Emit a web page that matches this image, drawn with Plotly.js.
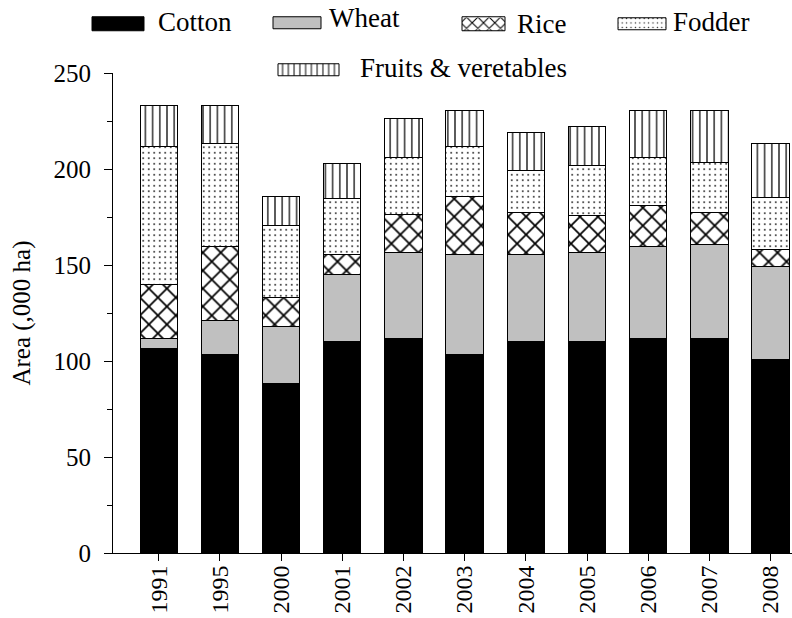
<!DOCTYPE html>
<html>
<head>
<meta charset="utf-8">
<script src="https://cdn.plot.ly/plotly-3.0.1.min.js"></script>
<style>
  html, body { margin: 0; padding: 0; background: #fff; }
  #chart { width: 792px; height: 618px; }
</style>
</head>
<body>
<div id="chart"></div>
<script>
// Cropped area by year (thousand hectares)
const years   = ['1991', '1995', '2000', '2001', '2002', '2003', '2004', '2005', '2006', '2007', '2008'];
const cotton  = [106.3, 103.3, 88.5, 110.2, 111.5, 103.3, 110.2, 110.2, 111.5, 111.5, 101.0];
const wheat   = [5.2, 17.7, 29.5, 35.1, 44.8, 52.4, 45.2, 46.1, 47.9, 49.4, 48.3];
const rice    = [28.6, 38.7, 15.3, 10.4, 19.9, 30.0, 22.2, 19.5, 21.6, 16.7, 9.0];
const fodder  = [71.7, 53.5, 37.3, 28.7, 30.0, 26.1, 21.7, 26.1, 25.0, 26.0, 27.1];
const fruits  = [21.3, 19.8, 15.1, 18.4, 20.0, 18.7, 19.8, 20.3, 24.4, 26.8, 28.1];

const serif = 'Liberation Serif, Times New Roman, serif';
const outline = { color: '#000', width: 1 };

// legend swatch geometry [width, height, vertical shift], one per series
const swatch = {
  'Cotton': [52, 14, 3], 'Wheat': [48, 12, 6], 'Rice': [43, 14, 1], 'Fodder': [48, 12, 3], 'Fruits & veretables': [61, 12, 3]
};

function bar(name, values, legendId, marker) {
  return {
    type: 'bar', name: name, x: years, y: values, legend: legendId,
    marker: Object.assign({ line: outline }, marker),
    hoverinfo: 'skip'
  };
}

const traces = [
  bar('Cotton', cotton, 'legend', { color: '#000000' }),
  bar('Wheat', wheat, 'legend2', { color: '#c0c0c0' }),
  bar('Rice', rice, 'legend3', {
    color: '#ffffff',
    pattern: { shape: 'x', size: 12.7, solidity: 0.25, fgcolor: '#000', bgcolor: '#fff', fillmode: 'replace' }
  }),
  bar('Fodder', fodder, 'legend4', {
    color: '#ffffff',
    pattern: { shape: '.', size: 5.5, solidity: 0.08, fgcolor: '#111', bgcolor: '#fff', fillmode: 'replace' }
  }),
  bar('Fruits & veretables', fruits, 'legend5', {
    color: '#ffffff',
    pattern: { shape: '|', size: 7.2, solidity: 0.17, fgcolor: '#000', bgcolor: '#fff', fillmode: 'replace' }
  })
];

// plot area in pixels: x 113..792, y 73.3..553.3
function legendAt(px, py, itemwidth) {
  return {
    xref: 'paper', yref: 'paper',
    x: (px - 113) / 679, y: (553.3 - py) / 480,
    xanchor: 'left', yanchor: 'top',
    bgcolor: 'rgba(0,0,0,0)', borderwidth: 0,
    itemwidth: itemwidth,
    font: { family: serif, size: 27, color: '#000' },
    itemclick: false, itemdoubleclick: false
  };
}

const layout = {
  width: 792, height: 618,
  margin: { l: 113, r: 0, t: 73, b: 65, autoexpand: false },
  paper_bgcolor: '#fff', plot_bgcolor: '#fff',
  barmode: 'stack', bargap: 0.39,
  showlegend: true,
  font: { family: serif, color: '#000' },
  legend:  legendAt(78, -3, 70),
  legend2: legendAt(265, -7, 54),
  legend3: legendAt(450, -1, 57),
  legend4: legendAt(611, -3, 52),
  legend5: legendAt(257, 43, 93),
  xaxis: {
    type: 'category', range: [-0.747, 10.35],
    showline: true, linecolor: '#000', linewidth: 1,
    ticks: 'outside', ticklen: 7, tickcolor: '#000', tickwidth: 1,
    tickangle: -90, ticklabelstandoff: -5,
    tickfont: { family: serif, size: 24, color: '#000' },
    showgrid: false, zeroline: false, fixedrange: true
  },
  yaxis: {
    range: [0, 250], dtick: 50, tick0: 0,
    showline: true, linecolor: '#000', linewidth: 1,
    ticks: 'outside', ticklen: 8, tickcolor: '#000', tickwidth: 1,
    ticklabelstandoff: 8,
    minor: { dtick: 25, tick0: 0, ticks: 'outside', ticklen: 5, tickcolor: '#000', tickwidth: 1, showgrid: false },
    tickfont: { family: serif, size: 25, color: '#000' },
    showgrid: false, zeroline: false, fixedrange: true,
    title: { text: 'Area (,000 ha)', font: { family: serif, size: 25, color: '#000' }, standoff: 15 }
  }
};

// widen legend swatches into flat rectangles
function widenSwatches(gd) {
  gd.querySelectorAll('g.traces').forEach(function (item) {
    const d = item.__data__;
    const name = d && d[0] && d[0].trace ? d[0].trace.name : null;
    const size = swatch[name];
    if (!size) return;
    const w = size[0] / 2, top = size[2] - size[1] / 2, bottom = size[2] + size[1] / 2;
    item.querySelectorAll('.legendpoints path').forEach(function (p) {
      p.setAttribute('d', 'M-' + w + ',' + bottom + 'H' + w + 'V' + top + 'H-' + w + 'Z');
    });
  });
}

const gd = document.getElementById('chart');
Plotly.newPlot(gd, traces, layout, { staticPlot: true, displayModeBar: false }).then(function () {
  widenSwatches(gd);
  gd.on('plotly_afterplot', function () { widenSwatches(gd); });
});
</script>
</body>
</html>
